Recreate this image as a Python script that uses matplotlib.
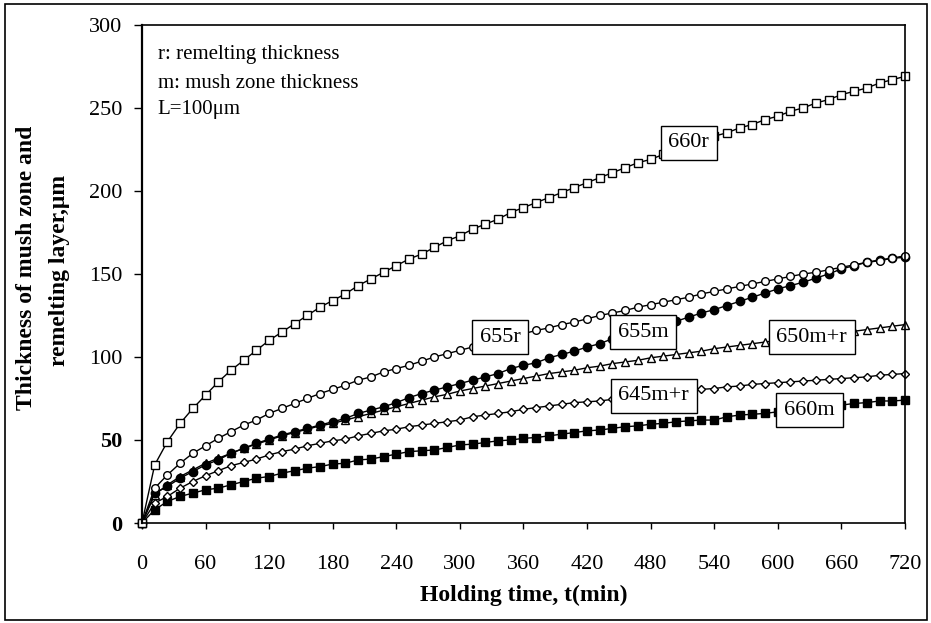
import matplotlib
matplotlib.use('Agg')
import matplotlib.pyplot as plt
from matplotlib.patches import Rectangle
from matplotlib.transforms import Bbox

plt.rcParams['font.family'] = ['Liberation Serif', 'DejaVu Serif']
plt.rcParams['mathtext.fontset'] = 'stix'

# Daten
t = list(range(0, 721, 12))

r660 = [0, 35, 49, 60, 69, 77, 85, 92, 98, 104, 110, 115, 120, 125, 130, 134, 138, 143, 147, 151,
        155, 159, 162, 166, 170, 173, 177, 180, 183, 187, 190, 193, 196, 199, 202, 205, 208, 211, 214, 217,
        219, 222, 225, 228, 230, 233, 235, 238, 240, 243, 245, 248, 250, 253, 255, 258, 260, 262, 265, 267, 269]
r655 = [0, 21, 29, 36, 42, 46.5, 51, 55, 59, 62, 66, 69, 72, 75, 78, 80.5, 83, 86, 88, 91,
        93, 95, 97.5, 100, 102, 104, 106, 108, 110, 112, 114, 116, 117.5, 119.5, 121, 123, 125, 126.5, 128, 130,
        131.5, 133, 134.5, 136, 138, 139.5, 141, 142.5, 144, 145.5, 147, 148.5, 150, 151, 152.5, 154, 155.5, 157, 158, 159.5, 161]
m655 = [0, 18, 22, 27, 31, 35, 38, 42, 45, 48, 50.5, 53, 55, 57, 59, 61, 63, 66, 68, 70,
        72.5, 75.5, 78, 80, 82, 84, 86, 88, 90, 93, 95, 96.5, 99.5, 101.5, 103.5, 106, 108, 111, 113.5, 116,
        118.5, 120.5, 121.5, 124, 126.5, 128.5, 131, 133.5, 136, 138.5, 141, 143, 145, 147.5, 150, 153, 155, 157, 158.5, 159.5, 160]
mr650 = [0, 17, 23, 28, 32, 36, 39, 42, 45, 47.5, 50, 52.5, 54.5, 56.5, 58.5, 60, 62, 64, 66, 68,
         70, 72, 74, 76, 77.5, 79.5, 81, 82.5, 84, 85.5, 87, 88.5, 90, 91, 92, 93.5, 94.5, 96, 97, 98,
         99.5, 100.5, 101.5, 102.5, 103.5, 105, 106, 107, 108, 109, 110, 111, 111.5, 112.5, 113.5, 114.5, 115.5, 116.5, 117.5, 118.5, 119.5]
mr645 = [0, 12, 16, 21, 25, 28.5, 31.5, 34.5, 36.5, 38.5, 41, 43, 44.5, 46.5, 48, 49.5, 50.5, 52.5, 54, 55.5,
         56.5, 58, 59, 60, 61, 62, 64, 65, 66, 67, 68.5, 69.5, 70.5, 71.5, 72.5, 73, 73.5, 74.5, 75.5, 76.5,
         77, 78, 79, 80, 80.5, 81, 82, 82.5, 83.5, 84, 84.5, 85, 85.5, 86, 86.5, 87, 87.5, 88, 89, 89.5, 90]
m660 = [0, 8, 13, 16, 18, 20, 21, 23, 25, 27, 28, 30, 31.5, 33, 34, 35.5, 36, 38, 38.5, 40,
        41.5, 43, 43.5, 44, 45.5, 47, 47.5, 48.5, 49.5, 50, 51, 51.5, 52.5, 53.5, 54.5, 55.5, 56, 57, 58, 58.5,
        59.5, 60, 61, 61.5, 62, 62, 64, 65, 65.5, 66, 67, 68, 68.5, 69.5, 70.5, 71, 72, 72.5, 73.5, 73.5, 74]

etiquetas = ['660r', '655r', '655m', '650m+r', '645m+r', '660m']
pos_etiquetas = [(516, 229), (338, 112), (473, 115), (632, 112), (483, 76.5), (630, 68)]

xticks = list(range(0, 721, 60))
yticks = [0, 50, 100, 150, 200, 250, 300]

fig = plt.figure(figsize=(9.31, 6.23), dpi=100)
ax = fig.add_axes([0.1525, 0.1605, 0.8195, 0.7995])

estilo = dict(color='black', lw=1, clip_on=False)
ax.plot(t, m660, marker='s', ms=6, mfc='black', mec='black', **estilo)
ax.plot(t, mr645, marker='D', ms=4.5, mfc='white', mec='black', mew=1, **estilo)
ax.plot(t, mr650, marker='^', ms=6, mfc='white', mec='black', mew=1, **estilo)
ax.plot(t, m655, marker='o', ms=6, mfc='black', mec='black', **estilo)
ax.plot(t, r655, marker='o', ms=5.5, mfc='white', mec='black', mew=1, **estilo)
ax.plot(t, r660, marker='s', ms=6, mfc='white', mec='black', mew=1, **estilo)

for txt, (x, y) in zip(etiquetas, pos_etiquetas):
    ax.text(x, y, txt, fontsize=16, ha='center', va='center', zorder=10,
            bbox=dict(boxstyle='square,pad=0.35', fc='white', ec='black', lw=1))

ax.text(15, 282, 'r: remelting thickness', fontsize=15, va='center')
ax.text(15, 265, 'm: mush zone thickness', fontsize=15, va='center')
ax.text(15, 249, 'L=100μm', fontsize=15, va='center')

ax.set_xlim(0, 720)
ax.set_ylim(0, 300)
ax.set_xticks(xticks)
ax.set_xticklabels([str(v) for v in xticks], fontsize=16)
ax.set_yticks(yticks)
ax.set_yticklabels([str(v) for v in yticks], fontsize=16)
for lab in ax.get_yticklabels():
    if lab.get_text() in ('0', '50'):
        lab.set_fontweight('bold')
ax.tick_params(axis='x', direction='out', length=4, width=1, pad=19)
ax.tick_params(axis='y', direction='out', length=6, width=1, pad=8)
for s in ax.spines.values():
    s.set_linewidth(1.2)
ax.spines['left'].set_linewidth(1.6)

ax.set_xlabel('Holding time, t(min)', fontsize=17, fontweight='bold', labelpad=8)

clip = Bbox.from_extents(0, 0, 931, 623 - 127)
l1 = fig.text(27 / 931, 1 - 268 / 623, 'Thickness of mush zone and', rotation=90,
              fontsize=17, fontweight='bold', ha='center', va='center')
l1.set_clip_box(clip)
l1.set_clip_on(True)
fig.text(60 / 931, 1 - 270 / 623, 'remelting layer,μm', rotation=90,
         fontsize=17, fontweight='bold', ha='center', va='center')

fig.add_artist(Rectangle((5 / 931, 3 / 623), 922 / 931, 616 / 623, transform=fig.transFigure,
                         fill=False, ec='black', lw=1.2))

fig.savefig('out.png', dpi=100)
